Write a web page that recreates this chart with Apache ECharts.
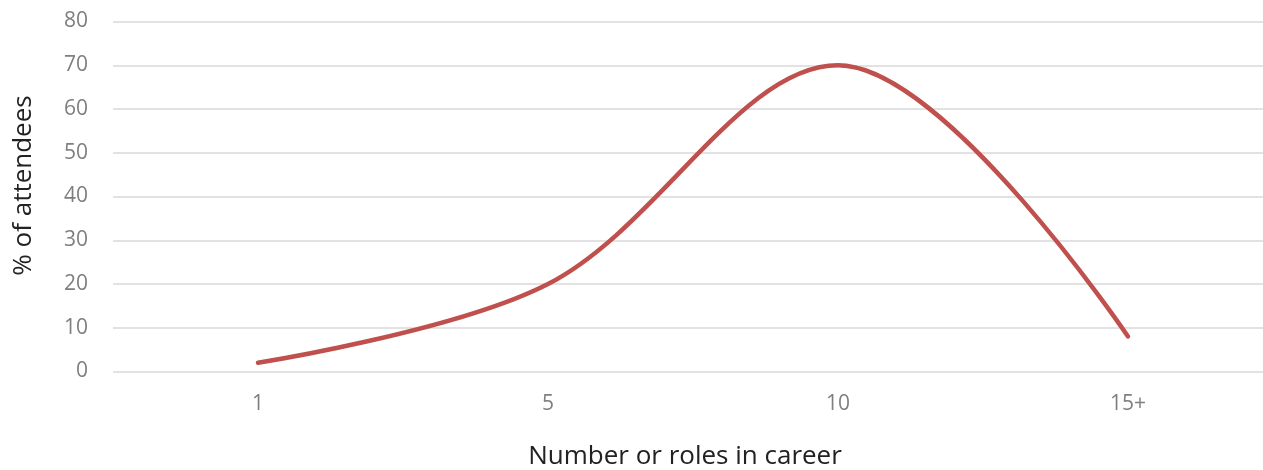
<!DOCTYPE html>
<html lang="en">
<head>
    <meta charset="UTF-8">
    <title>Number of roles in career</title>
</head>
<script src="https://cdn.jsdelivr.net/npm/echarts@6/dist/echarts.min.js"></script>
<body style="margin:0">
<div id="main" style="height: 470px;width: 1263px"></div>
<script type="text/javascript">
    // data
    var roles = ['1', '5', '10', '15+'];
    var attendees = [2, 20, 70, 8];
    var yTicks = [0, 80, 10]; // min, max, interval

    var myChart = echarts.init(document.getElementById("main"))
    var option = {
        grid: {
            left: 113,
            top: 21.5,
            width: 1160,
            height: 350,
            outerBoundsMode: 'none'
        },
        xAxis: {
            type: 'category',
            data: roles,
            name: 'Number or roles in career',
            nameLocation: 'middle',
            nameGap: 72,
            nameTextStyle: {
                fontFamily: 'Open Sans',
                fontSize: 26,
                color: '#222',
                padding: [0, 16, 0, 0]
            },
            axisLine: {show: false},
            axisTick: {show: false},
            axisLabel: {
                fontFamily: 'Open Sans',
                fontSize: 21,
                color: '#7f7f7f',
                margin: 22
            }
        },
        yAxis: {
            type: 'value',
            min: yTicks[0],
            max: yTicks[1],
            interval: yTicks[2],
            name: '% of attendees',
            nameLocation: 'middle',
            nameRotate: 90,
            nameGap: 76,
            nameTextStyle: {
                fontFamily: 'Open Sans',
                fontSize: 26,
                color: '#222',
                padding: [0, 0, 0, 22]
            },
            axisLabel: {
                fontFamily: 'Open Sans',
                fontSize: 21,
                color: '#7f7f7f',
                margin: 25
            },
            splitLine: {
                lineStyle: {color: '#d9d9d9', width: 1.5}
            }
        },
        series: [{
            type: 'line',
            data: attendees,
            smooth: 0.35,
            showSymbol: false,
            lineStyle: {color: '#c0504d', width: 4.5, cap: 'round'}
        }]
    }
    myChart.setOption(option)
</script>
</body>
</html>
